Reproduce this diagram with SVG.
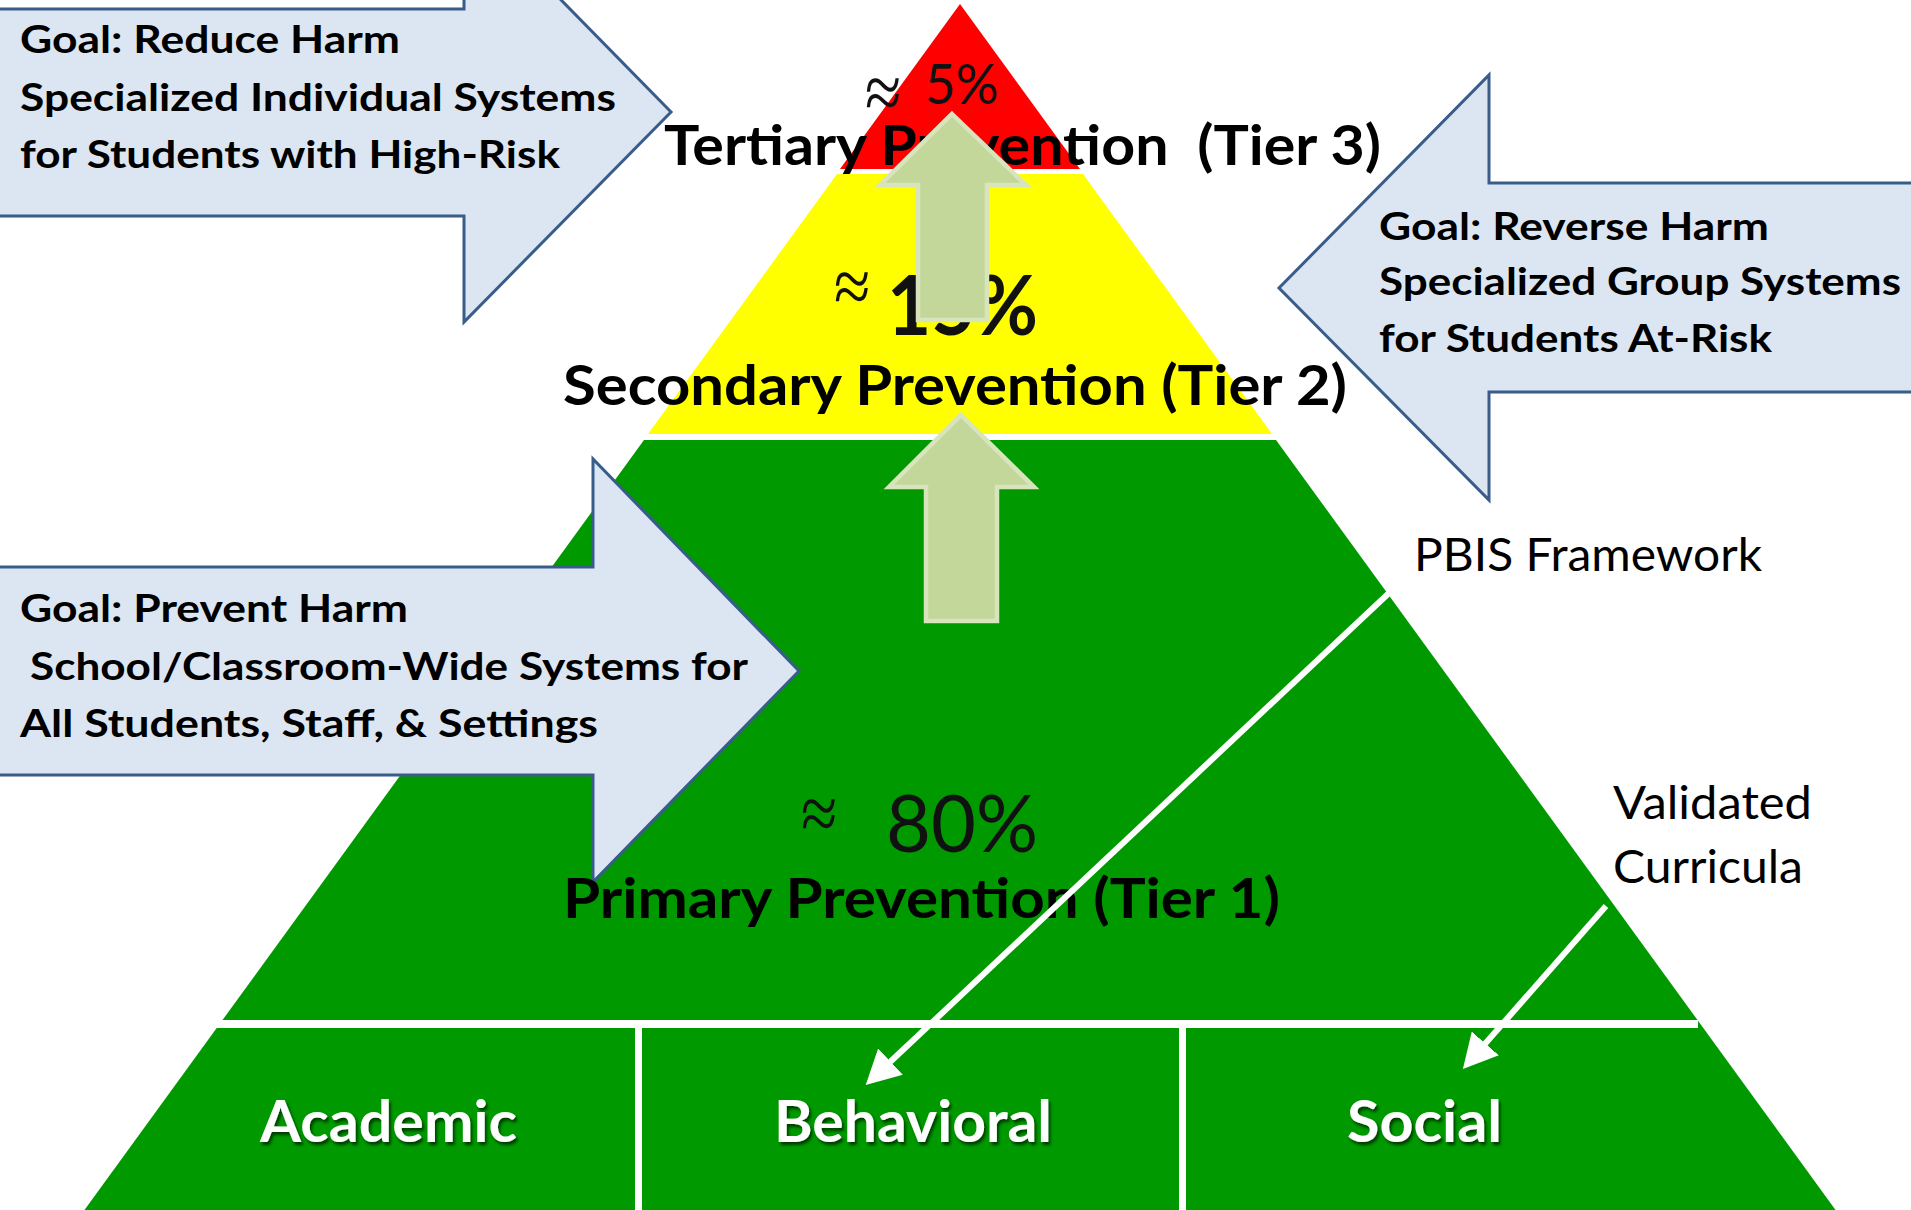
<svg xmlns="http://www.w3.org/2000/svg" width="1911" height="1210" viewBox="0 0 1911 1210">
<defs>
<style>
.box{fill:#DCE6F2;stroke:#385D8A;stroke-width:3}
.gt{font-family:Lato,'Liberation Sans',sans-serif;font-weight:700;font-size:38px;fill:#000}
.tier{font-family:Lato,'Liberation Sans',sans-serif;font-weight:700;font-size:56px;fill:#000}
.pct{font-family:Lato,'Liberation Sans',sans-serif;fill:#111}
.approx{font-family:'Liberation Serif',serif;font-size:66px;fill:#111}
.lbl{font-family:Lato,'Liberation Sans',sans-serif;font-size:47px;fill:#000}
.base{font-family:Lato,'Liberation Sans',sans-serif;font-weight:700;font-size:57px;fill:#fff}
.up{fill:#C4D79B;stroke:#D8E4BC;stroke-width:4.5}
.wl{stroke:#fff;stroke-width:6;fill:none}
</style>
<filter id="shadow" x="-10%" y="-20%" width="130%" height="150%">
<feDropShadow dx="2" dy="3" stdDeviation="1.5" flood-color="#000" flood-opacity="0.6"/>
</filter>
<marker id="head" markerUnits="userSpaceOnUse" viewBox="0 0 34 36" markerWidth="34" markerHeight="36" refX="2" refY="18" orient="auto">
<path d="M0,0 L34,18 L0,36 Z" fill="#fff"/>
</marker>
</defs>
<rect width="1911" height="1210" fill="#fff"/>

<g id="tier3">
<polygon points="960,4 1080,169 840,169" fill="#FF0000"/>
</g>
<g id="tier2">
<polygon points="837,174 1083,174 1272,434 648,434" fill="#FFFF00"/>
</g>
<g id="tier1">
<polygon points="644,440 1276,440 1837,1212 83,1212" fill="#009900"/>
<rect x="217" y="1020" width="1481" height="8" fill="#fff"/>
<rect x="635" y="1028" width="7" height="184" fill="#fff"/>
<rect x="1179" y="1028" width="7" height="184" fill="#fff"/>
</g>

<g id="goal-reduce">
<path class="box" d="M-5,9 H464 V-99 L671,112 L464,322 V216 H-5 Z"/>
<text class="gt" x="20" y="53" textLength="380" lengthAdjust="spacingAndGlyphs">Goal: Reduce Harm</text>
<text class="gt" x="20" y="111" textLength="596" lengthAdjust="spacingAndGlyphs">Specialized Individual Systems</text>
<text class="gt" x="20" y="168" textLength="540" lengthAdjust="spacingAndGlyphs">for Students with High-Risk</text>
</g>

<g id="goal-reverse">
<path class="box" d="M1920,183 H1489 V75 L1279,288 L1489,500 V392 H1920 Z"/>
<text class="gt" x="1379" y="240" textLength="390" lengthAdjust="spacingAndGlyphs">Goal: Reverse Harm</text>
<text class="gt" x="1379" y="295" textLength="522" lengthAdjust="spacingAndGlyphs">Specialized Group Systems</text>
<text class="gt" x="1379" y="352" textLength="393" lengthAdjust="spacingAndGlyphs">for Students At-Risk</text>
</g>

<g id="goal-prevent">
<path class="box" d="M-5,567 H593 V459 L799,671 L593,882 V775 H-5 Z"/>
<text class="gt" x="20" y="622" textLength="388" lengthAdjust="spacingAndGlyphs">Goal: Prevent Harm</text>
<text class="gt" x="30" y="680" textLength="718" lengthAdjust="spacingAndGlyphs">School/Classroom-Wide Systems for</text>
<text class="gt" x="20" y="737" textLength="578" lengthAdjust="spacingAndGlyphs">All Students, Staff, &amp; Settings</text>
</g>

<g id="tier3-label">
<text class="approx" transform="translate(865,119) scale(1,1.2)">≈</text>
<text class="pct" x="925" y="104" font-size="57" textLength="74" lengthAdjust="spacingAndGlyphs">5%</text>
<text class="tier" x="664" y="165" xml:space="preserve" textLength="717" lengthAdjust="spacingAndGlyphs">Tertiary Prevention  (Tier 3)</text>
</g>

<g id="tier2-label">
<text class="approx" transform="translate(834,313) scale(1,1.2)">≈</text>
<text class="pct" x="887" y="335" font-size="83" font-weight="700" textLength="151" lengthAdjust="spacingAndGlyphs">15%</text>
<text class="tier" x="563" y="405" textLength="784" lengthAdjust="spacingAndGlyphs">Secondary Prevention (Tier 2)</text>
</g>

<g id="tier1-label">
<text class="approx" transform="translate(801,840) scale(1,1.2)">≈</text>
<text class="pct" x="886" y="852" font-size="80" textLength="152" lengthAdjust="spacingAndGlyphs">80%</text>
<text class="tier" x="563" y="918" textLength="717" lengthAdjust="spacingAndGlyphs">Primary Prevention (Tier 1)</text>
</g>

<g id="up-arrow-1">
<polygon class="up" points="952,114 1026,185 987,185 987,320 918,320 918,185 880,185"/>
</g>
<g id="up-arrow-2">
<polygon class="up" points="961,415 1034,487 997,487 997,621 926,621 926,487 889,487"/>
</g>

<g id="label-pbis">
<text class="lbl" x="1414" y="571" textLength="348" lengthAdjust="spacingAndGlyphs">PBIS Framework</text>
</g>
<g id="label-curricula">
<text class="lbl" x="1613" y="819" textLength="199" lengthAdjust="spacingAndGlyphs">Validated</text>
<text class="lbl" x="1613" y="883" textLength="190" lengthAdjust="spacingAndGlyphs">Curricula</text>
</g>

<g id="academic"><text class="base" x="260" y="1142" textLength="257" lengthAdjust="spacingAndGlyphs" filter="url(#shadow)">Academic</text></g>
<g id="behavioral"><text class="base" x="774" y="1142" textLength="278" lengthAdjust="spacingAndGlyphs" filter="url(#shadow)">Behavioral</text></g>
<g id="social"><text class="base" x="1347" y="1142" textLength="155" lengthAdjust="spacingAndGlyphs" filter="url(#shadow)">Social</text></g>

<g id="connectors">
<line class="wl" x1="1389" y1="593" x2="889" y2="1063" marker-end="url(#head)"/>
<line class="wl" x1="1606" y1="906" x2="1484" y2="1045" marker-end="url(#head)"/>
</g>
</svg>
